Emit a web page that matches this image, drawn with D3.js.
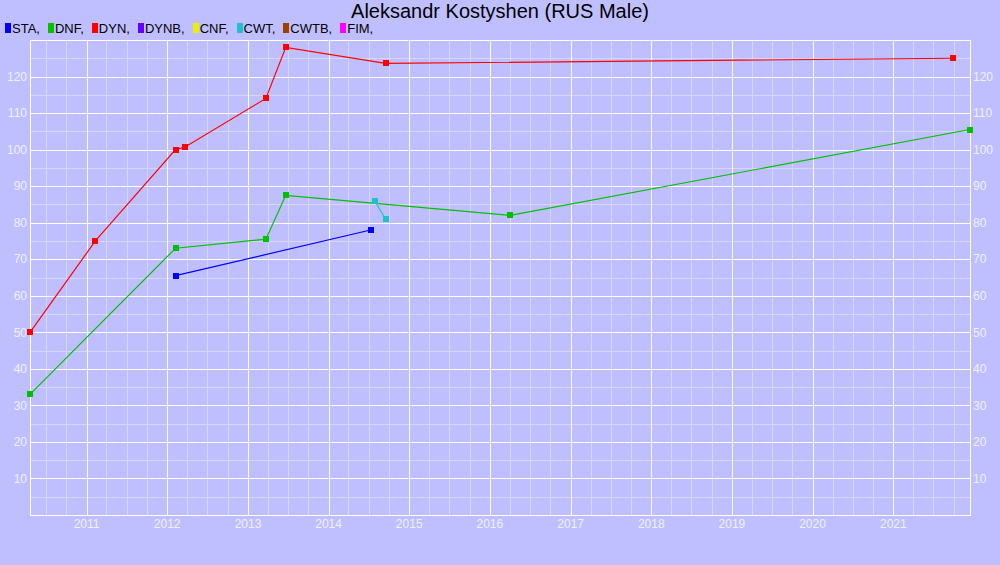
<!DOCTYPE html>
<html><head><meta charset="utf-8">
<script src="https://cdn.jsdelivr.net/npm/d3@7"></script>
<style>
html,body{margin:0;padding:0;background:#bfbfff;}
svg{display:block;font-family:"Liberation Sans",Arial,sans-serif;}
</style></head>
<body><svg id="c" width="1000" height="565"></svg>
<script>
const title = "Aleksandr Kostyshen (RUS Male)";
const legendNames = ["STA","DNF","DYN","DYNB","CNF","CWT","CWTB","FIM"];
const legendColors = ["#0000ff","#00c000","#ff0000","#6600ff","#eeee00","#20c0d0","#a04000","#ff00ff"];

const staDates = ["2012-02-08","2014-07-10"];
const staVals  = [65.5, 78];
const dnfDates = ["2010-04-20","2012-02-08","2013-03-23","2013-06-21","2016-04-02","2021-12-14"];
const dnfVals  = [33, 73, 75.5, 87.5, 82, 105.5];
const dynDates = ["2010-04-20","2011-02-10","2012-02-08","2012-03-22","2013-03-23","2013-06-21","2014-09-16","2021-09-26"];
const dynVals  = [50, 75, 100, 100.7, 114, 128, 123.6, 125];
const cwtDates = ["2014-07-28","2014-09-16"];
const cwtVals  = [86, 81];

const yTicks = [10,20,30,40,50,60,70,80,90,100,110,120];
const xYears = [2011,2012,2013,2014,2015,2016,2017,2018,2019,2020,2021];

const parse = d3.utcParse("%Y-%m-%d");
const series = [
  {name:"STA", dates:staDates, vals:staVals},
  {name:"DNF", dates:dnfDates, vals:dnfVals},
  {name:"DYN", dates:dynDates, vals:dynVals},
  {name:"CWT", dates:cwtDates, vals:cwtVals}
];
const colorOf = n => legendColors[legendNames.indexOf(n)];

const L=30, R=970, T=40, B=515;
const allDates = series.flatMap(s=>s.dates.map(parse));
const x = d3.scaleUtc().domain(d3.extent(allDates)).range([L,R]);
const y = d3.scaleLinear().domain([0,130]).range([B,T]);

const svg = d3.select("#c");
svg.append("rect").attr("width",1000).attr("height",565).attr("fill","#bfbfff");

const px = v => Math.round(v)+0.5;
const grid = svg.append("g").attr("shape-rendering","crispEdges");
// minor grid
const minorX = d3.utcMonth.every(3).range(x.domain()[0], x.domain()[1]);
grid.selectAll(".mx").data(minorX).join("line")
  .attr("x1",d=>px(x(d))).attr("x2",d=>px(x(d))).attr("y1",T).attr("y2",B)
  .attr("stroke","#d6d6f6").attr("stroke-width",1);
const minorY = d3.range(5,130,5);
grid.selectAll(".my").data(minorY).join("line")
  .attr("y1",d=>px(y(d))).attr("y2",d=>px(y(d))).attr("x1",L).attr("x2",R)
  .attr("stroke","#d6d6f6").attr("stroke-width",1);
// major grid
const yearDates = xYears.map(yr=>new Date(Date.UTC(yr,0,1)));
grid.selectAll(".Mx").data(yearDates).join("line")
  .attr("x1",d=>px(x(d))).attr("x2",d=>px(x(d))).attr("y1",T).attr("y2",B)
  .attr("stroke","#ffffff").attr("stroke-width",1);
grid.selectAll(".My").data(yTicks).join("line")
  .attr("y1",d=>px(y(d))).attr("y2",d=>px(y(d))).attr("x1",L).attr("x2",R)
  .attr("stroke","#ffffff").attr("stroke-width",1);
grid.append("rect").attr("x",L+0.5).attr("y",T+0.5).attr("width",R-L).attr("height",B-T)
  .attr("fill","none").attr("stroke","#ffffff").attr("stroke-width",1);

// axis labels
const lab = svg.append("g").attr("fill","#f0f0ff").attr("font-size",12);
lab.selectAll(".yl").data(yTicks).join("text")
  .attr("x",L-3).attr("y",d=>y(d)).attr("dy","0.35em").attr("text-anchor","end").text(d=>d);
lab.selectAll(".yr").data(yTicks).join("text")
  .attr("x",R+3).attr("y",d=>y(d)).attr("dy","0.35em").attr("text-anchor","start").text(d=>d);
lab.selectAll(".xl").data(yearDates).join("text")
  .attr("x",d=>x(d)).attr("y",528).attr("text-anchor","middle").text(d=>d.getUTCFullYear());

// lines
const line = d3.line().x(d=>x(d[0])).y(d=>y(d[1]));
series.forEach(s=>{
  const pts = s.dates.map((d,i)=>[parse(d), s.vals[i]]);
  svg.append("path").datum(pts).attr("d",line)
    .attr("fill","none").attr("stroke",colorOf(s.name)).attr("stroke-width",1.2);
});
series.forEach(s=>{
  const pts = s.dates.map((d,i)=>[parse(d), s.vals[i]]);
  svg.append("g").selectAll("rect").data(pts).join("rect")
    .attr("x",d=>x(d[0])-3).attr("y",d=>y(d[1])-3).attr("width",6).attr("height",6)
    .attr("fill",colorOf(s.name)).attr("shape-rendering","crispEdges");
});

// title
svg.append("text").attr("x",500).attr("y",18).attr("text-anchor","middle")
  .attr("font-size",20).attr("fill","#000").text(title);

// legend
const lg = svg.append("g").attr("font-size",13);
let cx = 5;
legendNames.forEach((n,i)=>{
  lg.append("rect").attr("x",cx).attr("y",23).attr("width",6).attr("height",10)
    .attr("fill",legendColors[i]).attr("shape-rendering","crispEdges");
  const t = lg.append("text").attr("x",cx+7).attr("y",33).attr("fill","#000").text(n+",");
  cx += 7 + t.node().getComputedTextLength() + 8;
});
</script></body></html>
